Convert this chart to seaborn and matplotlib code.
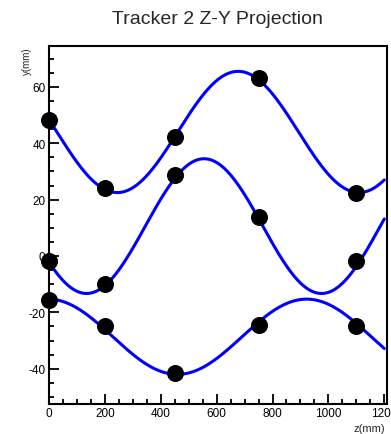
import numpy as np
import pandas as pd
import matplotlib
matplotlib.use("Agg")
import matplotlib.pyplot as plt
from matplotlib.ticker import MultipleLocator
import seaborn as sns

# Measured hit positions (z, y) for three tracks
hit_z = [0, 200, 450, 750, 1100]
track_top_y = [48.4, 24.1, 42.2, 63.0, 22.4]
track_mid_y = [-1.7, -10.0, 28.6, 14.0, -1.8]
track_bot_y = [-15.5, -24.7, -41.5, -24.6, -25.0]

# Helix fit parameters (one per track)
fit_offset = [44.0, 10.6, -28.65]
fit_amplitude = [21.5, 23.9, 13.35]
fit_period = [865.0, 841.0, 925.0]
fit_peak_z = [677.0, 555.0, 922.0]
fit_z_range = [0, 1200]

title = "Tracker 2 Z-Y Projection"
x_label = "z(mm)"
y_label = "y(mm)"

sns.set_style("ticks")
plt.rcParams["font.family"] = ["Liberation Sans", "DejaVu Sans"]
plt.rcParams["axes.unicode_minus"] = False

fig = plt.figure(figsize=(3.91, 4.35), dpi=100)
ax = fig.add_axes([0.1253, 0.069, 0.8647, 0.823])

names = ["top", "mid", "bot"]
hits = pd.DataFrame({
    "z": hit_z * 3,
    "y": track_top_y + track_mid_y + track_bot_y,
    "track": [n for n in names for _ in hit_z],
})

zz = np.linspace(fit_z_range[0], fit_z_range[1], 600)
curves = []
for n, c, a, p, z0 in zip(names, fit_offset, fit_amplitude, fit_period, fit_peak_z):
    curves.append(pd.DataFrame({"z": zz, "y": c + a * np.cos(2 * np.pi * (zz - z0) / p), "track": n}))
curves = pd.concat(curves)

sns.lineplot(data=curves, x="z", y="y", units="track", estimator=None,
             color="#0000ff", lw=2.2, ax=ax, sort=False, zorder=2)
sns.scatterplot(data=hits, x="z", y="y", color="black", s=150, edgecolor="black",
                linewidth=0, ax=ax, zorder=3, clip_on=False)

ax.set_xlim(0, 1210)
ax.set_ylim(-52.5, 74.5)
ax.xaxis.set_major_locator(MultipleLocator(200))
ax.xaxis.set_minor_locator(MultipleLocator(50))
ax.yaxis.set_major_locator(MultipleLocator(20))
ax.yaxis.set_minor_locator(MultipleLocator(5))
ax.tick_params(which="both", direction="in", top=False, right=False,
               colors="black", labelsize=8.5, width=1.3)
ax.tick_params(which="major", length=7, pad=2.5)
ax.tick_params(which="minor", length=3.5)
for s in ax.spines.values():
    s.set_visible(True)
    s.set_linewidth(1.5)
    s.set_color("black")

ax.set_xlabel("")
ax.set_ylabel("")
fig.text(0.985, 0.002, x_label, ha="right", va="bottom", fontsize=8)
fig.text(0.068, 0.892, y_label, ha="center", va="top", rotation=90, fontsize=7)
fig.text(0.557, 0.975, title, ha="center", va="top", fontsize=14)

fig.savefig("out.png", dpi=100)
